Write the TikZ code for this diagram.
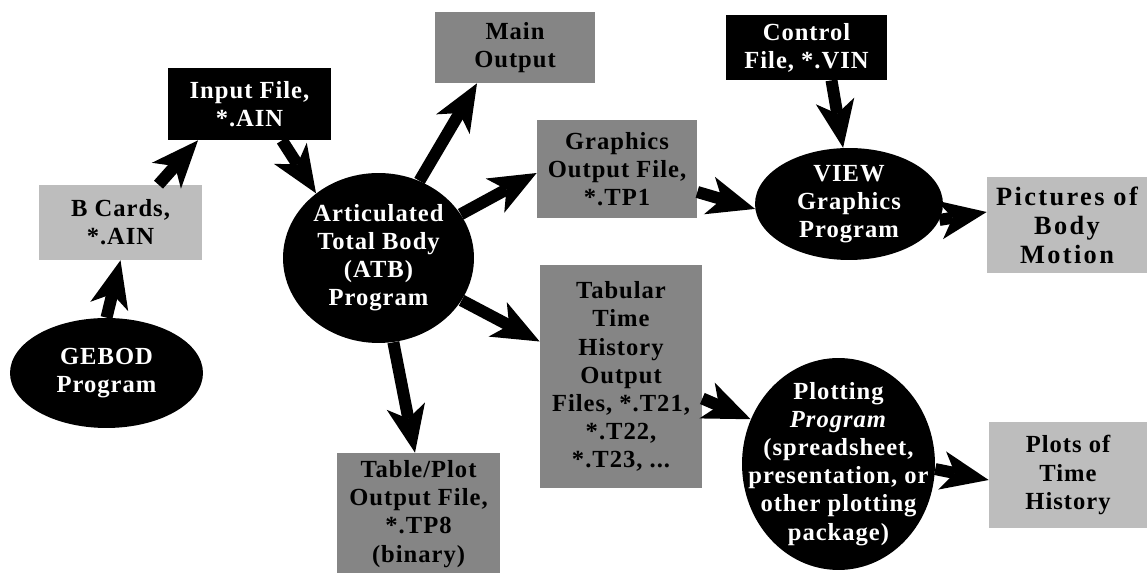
\documentclass[tikz,border=0pt]{standalone}
\usepackage{fontspec}
\setmainfont{Liberation Serif}
\usepackage{tikz}
\usetikzlibrary{shapes.geometric, arrows.meta, positioning, calc}

\begin{document}
\begin{tikzpicture}[x=0.02cm, y=-0.02cm,
    font=\bfseries\fontsize{14}{16}\selectfont\addfontfeature{LetterSpace=4},
    darkbox/.style={rectangle, fill=black, text=white, align=center, inner sep=0pt},
    midbox/.style={rectangle, fill=black!48, text=black, align=center, inner sep=0pt},
    lightbox/.style={rectangle, fill=black!26, text=black, align=center, inner sep=0pt},
    prog/.style={ellipse, fill=black, text=white, align=center, inner sep=-0.7cm},
    flow/.style={line width=0.24cm, -{Stealth[length=0.95cm, width=0.78cm, inset=0.26cm, line width=0pt]}}]

    \useasboundingbox (0,0) rectangle (1147,573);

    \node (gebod) [prog, minimum width=3.86cm, minimum height=2.2cm] at (106.5,373) {GEBOD\\Program};
    \node (bcards) [lightbox, minimum width=3.26cm, minimum height=1.5cm] at (120.5,222.5) {B Cards,\\*.AIN};
    \node (input) [darkbox, minimum width=3.26cm, minimum height=1.44cm] at (249.5,104) {Input File,\\*.AIN};
    \node (atb) [prog, minimum width=3.82cm, minimum height=3.4cm] at (378.5,258) {Articulated\\Total Body\\(ATB)\\Program};
    \node (mainout) [midbox, minimum width=3.2cm, minimum height=1.42cm] at (515,47.5) {Main\\Output};
    \node (graphics) [midbox, minimum width=3.2cm, minimum height=1.96cm] at (617,169) {Graphics\\Output File,\\*.TP1};
    \node (tabular) [midbox, minimum width=3.24cm, minimum height=4.46cm] at (621,376.5) {Tabular\\Time\\History\\Output\\Files, *.T21,\\*.T22,\\*.T23, ...};
    \node (tableplot) [midbox, minimum width=3.26cm, minimum height=2.44cm] at (418.5,514) {Table/Plot\\Output File,\\*.TP8\\(binary)};
    \node (control) [darkbox, minimum width=3.22cm, minimum height=1.3cm] at (806.5,47.5) {Control\\File, *.VIN};
    \node (view) [prog, minimum width=3.76cm, minimum height=2.24cm] at (849,204) {VIEW\\Graphics\\Program};
    \node (pictures) [lightbox, minimum width=3.2cm, minimum height=1.94cm, font=\bfseries\fontsize{15}{16.5}\selectfont\addfontfeature{LetterSpace=9}] at (1067,225) {Pictures of\\Body\\Motion};
    \node (plotting) [prog, minimum width=3.86cm, minimum height=4.24cm] at (838.5,464) {Plotting\\\textit{Program}\\(spreadsheet,\\presentation, or\\other plotting\\package)};
    \node (plots) [lightbox, minimum width=3.16cm, minimum height=2.12cm] at (1068,475) {Plots of\\Time\\History};

    \draw [flow] (gebod.north) -- (bcards.south);
    \draw [flow] ([xshift=0.76cm]bcards.north) -- ([xshift=-1.03cm]input.south);
    \draw [flow] ([xshift=0.65cm]input.south) -- (atb.134);
    \draw [flow] (atb.62) -- ([xshift=-0.76cm]mainout.south);
    \draw [flow] (atb.28) -- ([yshift=-0.08cm]graphics.west);
    \draw [flow] (atb.-27) -- ([yshift=0.7cm]tabular.west);
    \draw [flow] (atb.-80) -- ([xshift=-0.07cm]tableplot.north);
    \draw [flow] ([yshift=-0.46cm]graphics.east) -- (view.183);
    \draw [flow] ([xshift=0.5cm]control.south) -- (view.96);
    \draw [flow] (view.-10) -- ([yshift=0.26cm]pictures.west);
    \draw [flow] ([yshift=-0.44cm]tabular.east) -- (plotting.153);
    \draw [flow] (plotting.-3) -- ([yshift=-0.1cm]plots.west);

\end{tikzpicture}
\end{document}
